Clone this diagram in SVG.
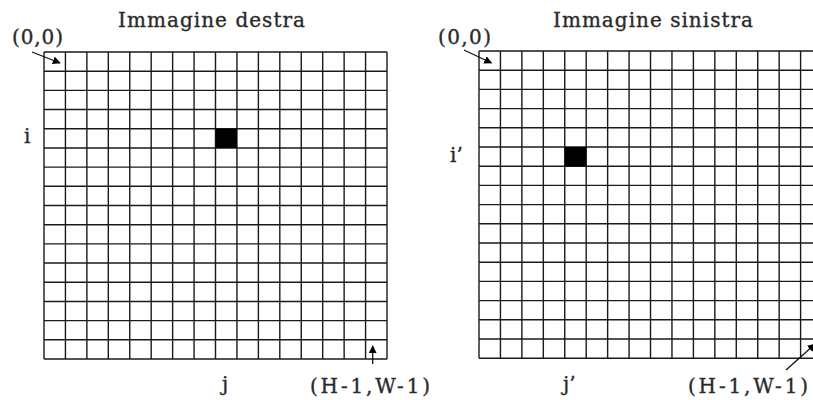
<svg xmlns="http://www.w3.org/2000/svg" width="813" height="400" viewBox="0 0 813 400">
<style>
.grid{fill:none;stroke:#1a1a1a;stroke-width:1.4}
.cell{fill:#000}
.t{font-family:"DejaVu Serif","Liberation Serif",serif;fill:#2a2a2a;stroke:#2a2a2a;stroke-width:0.35}
.title{font-size:20px}
.lbl{font-size:20px}
.conn{stroke:#111;stroke-width:1.3;fill:none;marker-end:url(#ah)}
</style>
<defs>
<marker id="ah" viewBox="0 0 10 10" refX="9" refY="5" markerWidth="8" markerHeight="8" markerUnits="userSpaceOnUse" orient="auto">
<path d="M0,0 L10,5 L0,10 z" fill="#000"/>
</marker>
</defs>
<rect width="813" height="400" fill="#fff"/>
<g id="left-image">
<text class="t title" x="118" y="27" textLength="187" lengthAdjust="spacing">Immagine destra</text>
<path class="grid" d="M44,52V359M65.44,52V359M86.88,52V359M108.31,52V359M129.75,52V359M151.19,52V359M172.63,52V359M194.06,52V359M215.5,52V359M236.94,52V359M258.38,52V359M279.81,52V359M301.25,52V359M322.69,52V359M344.13,52V359M365.56,52V359M387,52V359
M44,52H387M44,71.19H387M44,90.38H387M44,109.56H387M44,128.75H387M44,147.94H387M44,167.13H387M44,186.31H387M44,205.5H387M44,224.69H387M44,243.88H387M44,263.06H387M44,282.25H387M44,301.44H387M44,320.63H387M44,339.81H387M44,359H387"/>
<rect class="cell" x="215.5" y="128.75" width="21.44" height="19.19"/>
<text class="t lbl" x="24" y="143">i</text>
<text class="t lbl" x="222" y="391">j</text>
<text class="t lbl" x="12" y="44" textLength="51" lengthAdjust="spacing">(0,0)</text>
<text class="t lbl" x="310" y="393" textLength="120" lengthAdjust="spacing">(H-1,W-1)</text>
</g>
<g id="right-image">
<text class="t title" x="553" y="27" textLength="200" lengthAdjust="spacing">Immagine sinistra</text>
<path class="grid" d="M479,51V358.2M500.44,51V358.2M521.88,51V358.2M543.32,51V358.2M564.76,51V358.2M586.2,51V358.2M607.64,51V358.2M629.08,51V358.2M650.52,51V358.2M671.96,51V358.2M693.4,51V358.2M714.84,51V358.2M736.28,51V358.2M757.72,51V358.2M779.16,51V358.2M800.6,51V358.2M822.04,51V358.2
M479,51H822M479,70.2H822M479,89.4H822M479,108.6H822M479,127.8H822M479,147H822M479,166.2H822M479,185.4H822M479,204.6H822M479,223.8H822M479,243H822M479,262.2H822M479,281.4H822M479,300.6H822M479,319.8H822M479,339H822M479,358.2H822"/>
<rect class="cell" x="564.76" y="147" width="21.44" height="19.2"/>
<text class="t lbl" x="450" y="162">i’</text>
<text class="t lbl" x="563" y="391">j’</text>
<text class="t lbl" x="438" y="44" textLength="53" lengthAdjust="spacing">(0,0)</text>
<text class="t lbl" x="688" y="393" textLength="120" lengthAdjust="spacing">(H-1,W-1)</text>
</g>
<g id="connectors">
<path class="conn" d="M32,52 L60,63"/>
<path class="conn" d="M372.7,364 L372.7,346"/>
<path class="conn" d="M464,50 L491.5,63"/>
<path class="conn" d="M786,370 L815,344"/>
</g>
</svg>
